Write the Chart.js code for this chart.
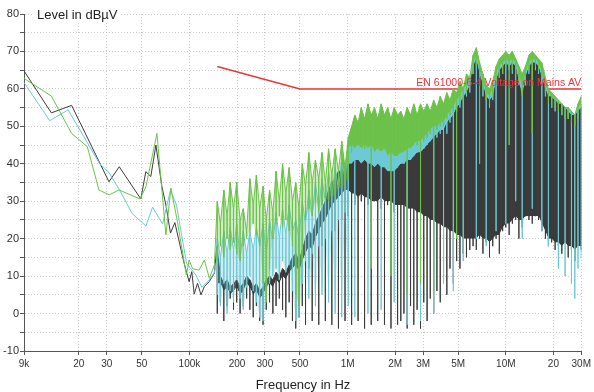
<!DOCTYPE html>
<html>
<head>
<meta charset="utf-8">
<title>Conducted emission 9 kHz - 30 MHz</title>
<script src="https://cdn.jsdelivr.net/npm/chart.js@4"></script>
<style>
  html, body { margin: 0; padding: 0; background: #fff; }
  canvas { display: block; }
</style>
</head>
<body>
<canvas id="chart" width="594" height="392"></canvas>
<script>
// all frequencies in kHz
const TICK_FREQS = [9, 20, 30, 50, 100, 200, 300, 500, 1000, 2000, 3000, 5000, 10000, 20000, 30000];
const TICK_LABELS = ["9k", "20", "30", "50", "100k", "200", "300", "500", "1M", "2M", "3M", "5M", "10M", "20", "30M"];

const LIMIT_NAME = "EN 61000-6-4 Voltage on Mains AV";
const limitFreq = [150, 500, 30000];
const limitLevel = [66, 60, 60];

// sparse part of the sweep, below 150 kHz
const darkLowFreq = [9, 13.4, 18, 31, 36, 49.3, 53, 57, 61.4, 67, 71, 75.9, 80.9, 86.9, 92.6, 99.6, 103.5, 107.2, 112.5, 118.3, 124.3, 133.7, 143.9, 148.8];
const darkLowLevel = [64.8, 53.6, 55.6, 35.2, 39.2, 30.6, 37.9, 36.6, 45.0, 33.9, 29.0, 21.5, 24.3, 18.5, 13.4, 8.5, 11.2, 5.2, 8.1, 5.0, 7.2, 8.6, 10.8, 17.9];

const greenLowFreq = [9, 13.4, 18, 22.6, 26.8, 31.1, 35.9, 48.8, 53.1, 62.3, 71, 76.4, 84, 95.6, 99.6, 104.6, 115, 124.3, 133.7, 143.9];
const greenLowLevel = [62.8, 58.1, 48.1, 44.6, 33.0, 31.7, 33.0, 30.6, 33.9, 48.1, 21.0, 33.5, 24.5, 10.3, 14.3, 12.0, 11.6, 14.3, 9.4, 13.0];

const cyanLowFreq = [9, 13.1, 17.1, 27, 31.1, 35.9, 43.5, 53.1, 58.5, 67.7, 75.9, 82.8, 95.9, 109.8, 120, 133.7, 143.9, 148.8];
const cyanLowLevel = [61.7, 51.5, 54.4, 40.1, 37.6, 33.2, 26.7, 23.4, 28.4, 23.9, 33.0, 29.0, 13.4, 10.3, 7, 9, 11, 14];

// dense part, 150 kHz - 30 MHz: peak and dip seen in each frequency step
const sweepFreq = [
  150, 157, 165, 173, 181, 190, 199, 209, 219, 230,
  241, 253, 265, 278, 292, 306, 321, 337, 353, 370,
  388, 407, 427, 448, 470, 493, 517, 542, 569, 597,
  626, 657, 689, 723, 758, 795, 834, 875, 918, 963,
  1010, 1060, 1110, 1165, 1220, 1280, 1345, 1410, 1480, 1550,
  1630, 1710, 1790, 1880, 1970, 2070, 2170, 2270, 2380, 2500,
  2620, 2750, 2890, 3030, 3180, 3330, 3500, 3670, 3850, 4040,
  4240, 4440, 4660, 4890, 5130, 5380, 5640, 5920, 6210, 6510,
  6830, 7170, 7520, 7890, 8270, 8680, 9100, 9550, 10000, 10500,
  11000, 11550, 12100, 12700, 13300, 14000, 14700, 15400, 16100, 16900,
  17800, 18600, 19500, 20500, 21500, 22600, 23700, 24800, 26000, 27300,
  28600, 30000
];

const greenPeak = [
  30, 24, 33, 26, 35, 28, 35, 25, 28, 22,
  36, 29, 37, 28, 34, 25, 33, 27, 38, 30,
  40, 32, 39, 30, 35, 28, 40, 34, 43, 35,
  41, 36, 43, 35, 44, 37, 44, 38, 46, 39,
  47, 50, 53, 51, 55, 52, 56, 53, 55, 52,
  56, 53, 55, 52, 55, 53, 54, 52, 55, 53,
  56, 53, 56, 54, 56, 54, 57, 55, 58, 56,
  59, 57, 60, 59, 62, 60, 64, 63, 69, 71,
  67, 64, 61, 60, 62, 66, 68, 69, 70, 69,
  70, 68, 66, 64, 66, 69, 70, 69, 68, 67,
  63, 60, 59, 58, 57, 56, 55, 55, 54, 53,
  56, 58
];
const greenDip = [
  14, 18, 15, 20, 17, 19, 16, 14, 18, 20,
  22, 24, 21, 18, 8, 3, 12, 20, 24, 26,
  23, 25, 22, 18, 5, 2, 14, 25, 28, 26,
  30, 27, 29, 31, 30, 32, 31, 34, 33, 35,
  36, 43, 45, 46, 46, 44, 47, 12, 46, 45,
  45, 46, 44, 10, 44, 43, 43, 44, 5, 45,
  46, 45, 8, 46, 47, 48, 6, 49, 50, 50,
  52, 53, 54, 20, 56, 57, 59, 61, 64, 66,
  40, 60, 57, 56, 58, 62, 63, 64, 66, 45,
  65, 64, 62, 58, 62, 65, 48, 66, 65, 63,
  59, 56, 55, 55, 54, 53, 52, 52, 51, 50,
  52, 54
];

const cyanPeak = [
  20, 15, 22, 16, 23, 17, 24, 15, 22, 16,
  22, 17, 23, 18, 24, 16, 25, 19, 27, 20,
  28, 21, 29, 22, 25, 20, 30, 24, 33, 26,
  35, 28, 36, 30, 38, 31, 39, 33, 41, 36,
  44, 45, 44, 45, 44, 45, 44, 45, 43, 44,
  43, 44, 42, 43, 42, 42, 43, 43, 44, 44,
  45, 46, 46, 47, 48, 49, 50, 50, 51, 51,
  53, 54, 55, 57, 58, 60, 61, 63, 67, 69,
  65, 62, 59, 58, 60, 64, 66, 67, 68, 67,
  68, 67, 64, 60, 64, 67, 68, 68, 67, 64,
  61, 59, 58, 57, 57, 56, 55, 55, 54, 53,
  55, 56
];
const cyanDip = [
  5, 2, 8, 0, 6, 3, 9, 4, 1, 7,
  10, 6, 3, -1, -2, 4, 8, 10, 12, 9,
  14, 11, 13, 6, -2, -1, 8, 14, 4, 16,
  2, 18, 5, 20, 3, 22, 0, 25, -1, 27,
  2, 41, -1, 42, 41, 42, 0, 42, 40, 41,
  1, 41, 39, 40, 3, 39, 40, 40, -3, 41,
  42, 43, -2, 44, 45, 46, 0, 47, 48, 8,
  48, 51, 6, 54, 55, 14, 58, 59, 64, 20,
  62, 58, 18, 55, 57, 22, 63, 64, 24, 65,
  64, 30, 61, 20, 61, 64, 28, 65, 64, 22,
  58, 18, 55, 54, 12, 53, 10, 52, 8, 4,
  12, 15
];

const darkPeak = [
  17, 10, 8, 9, 7, 8, 9, 7, 8, 10,
  9, 7, 8, 6, 7, 9, 10, 9, 11, 10,
  12, 11, 13, 15, 16, 14, 17, 20, 22, 21,
  24, 26, 28, 30, 33, 35, 36, 38, 38, 39,
  40, 40, 41, 41, 40, 41, 40, 40, 39, 40,
  39, 39, 38, 38, 38, 39, 40, 40, 41, 41,
  42, 43, 43, 44, 45, 46, 47, 48, 49, 49,
  51, 52, 53, 55, 56, 58, 59, 61, 66, 68,
  64, 61, 58, 57, 58, 62, 65, 66, 67, 66,
  67, 66, 62, 58, 63, 66, 67, 67, 66, 63,
  60, 58, 58, 57, 56, 56, 55, 54, 53, 53,
  54, 55
];
const darkDip = [
  0, 3, -2, 2, 4, 1, 3, 0, 2, 4,
  1, -1, 2, -2, -3, 1, 3, 0, 2, 4,
  1, -1, 3, -2, -4, -1, 2, -3, 12, -2,
  15, -3, 18, -2, 20, -3, 22, -4, 25, -2,
  26, -3, 29, -2, 30, -4, 29, -3, 30, -2,
  28, -3, 29, -4, 27, -3, -2, 0, -4, 2,
  -3, 1, -4, 3, -2, 4, 0, 6, 3, 10,
  5, 12, 8, 14, 12, 16, 15, 17, 18, 17,
  20, 16, 19, 15, 18, 20, 16, 22, 23, 21,
  24, 25, 20, 23, 26, 25, 24, 26, 25, 22,
  20, 18, 19, 17, 18, 16, 19, 15, 17, 14,
  18, 17
];
// lower edge of the solid dark band
const darkFloor = [
  8, 8, 6, 7, 5, 6, 7, 5, 6, 8,
  7, 5, 6, 4, 5, 7, 8, 7, 9, 8,
  10, 9, 11, 12, 13, 11, 14, 16, 18, 17,
  20, 22, 24, 25, 27, 29, 30, 31, 32, 33,
  33, 32, 32, 31, 32, 31, 31, 30, 30, 30,
  31, 30, 30, 30, 29, 29, 29, 29, 28, 28,
  28, 27, 27, 26, 26, 25, 25, 24, 24, 23,
  23, 22, 22, 21, 21, 20, 20, 20, 20, 20,
  21, 20, 20, 19, 20, 21, 21, 23, 24, 24,
  25, 26, 25, 25, 26, 26, 26, 26, 26, 24,
  22, 20, 20, 19, 19, 18, 19, 18, 18, 17,
  18, 18
];

const GREEN = "#6cc24a";
const CYAN = "#6cc9d6";
const DARK = "#3b3b3b";
const RED = "#e3393c";
const GREEN_HAZE = "rgba(108,194,74,0.32)";
const CYAN_HAZE = "rgba(108,201,214,0.32)";
const CLEAR = "rgba(0,0,0,0)";
const BAND_FROM = 38; // solid bands above ~900 kHz
const HAZE_TO = 41;   // dense hatching 150 kHz - 1 MHz

const pts = (fs, ls) => fs.map((f, i) => ({ x: f, y: ls[i] }));
// every step: down from the peak to the dip and back up, so spikes stay vertical
const trace = (lowF, lowL, peak, dip) =>
  pts(lowF, lowL).concat(sweepFreq.flatMap((f, i) => [
    { x: f, y: peak[i] }, { x: f, y: dip[i] }, { x: f, y: peak[i] },
  ]));
const slicePts = (ls, from, to) => sweepFreq.slice(from, to).map((f, i) => ({ x: f, y: ls[from + i] }));

const line = (data, color, order, extra) => Object.assign({
  data: data,
  borderColor: color,
  backgroundColor: color,
  borderWidth: 1,
  pointRadius: 0,
  tension: 0,
  fill: false,
  order: order,
}, extra || {});
const hidden = (data) => line(data, CLEAR, 20, { borderWidth: 0 });
const band = (data, color, order, target) =>
  line(data, color, order, { borderWidth: 0, fill: { target: target, above: color, below: CLEAR } });

const datasets = [
  line(trace(greenLowFreq, greenLowLevel, greenPeak, greenDip), GREEN, 1),   // 0
  band(slicePts(greenPeak, BAND_FROM), GREEN, 2, 2),                         // 1
  band(slicePts(cyanPeak, BAND_FROM), CYAN, 4, 5),                           // 2
  line(trace(cyanLowFreq, cyanLowLevel, cyanPeak, cyanDip), CYAN, 3),       // 3
  line(trace(darkLowFreq, darkLowLevel, darkPeak, darkDip), DARK, 5),       // 4
  hidden(slicePts(darkPeak, BAND_FROM)),                                     // 5
  band(pts(sweepFreq, darkPeak), DARK, 6, 7),                                // 6
  hidden(pts(sweepFreq, darkFloor)),                                         // 7
  line(pts(limitFreq, limitLevel), RED, 9, { borderWidth: 1.5 }),            // 8
  band(slicePts(greenPeak, 0, HAZE_TO), GREEN_HAZE, 2, 10),                  // 9
  hidden(slicePts(greenDip, 0, HAZE_TO)),                                    // 10
  band(slicePts(cyanPeak, 0, HAZE_TO), CYAN_HAZE, 4, 12),                    // 11
  hidden(slicePts(cyanDip, 0, HAZE_TO)),                                     // 12
];

const FONT = "'Liberation Sans', Arial, sans-serif";

const chartText = {
  id: "chartText",
  afterDatasetsDraw(chart) {
    const { ctx, chartArea, scales } = chart;
    ctx.save();
    ctx.fillStyle = RED;
    ctx.font = "10.5px " + FONT;
    ctx.textAlign = "right";
    ctx.textBaseline = "alphabetic";
    ctx.fillText(LIMIT_NAME, chartArea.right, scales.y.getPixelForValue(limitLevel[2]) - 3);
    ctx.restore();
  },
  afterDraw(chart) {
    const { ctx } = chart;
    ctx.save();
    ctx.font = "13px " + FONT;
    ctx.textBaseline = "alphabetic";
    const w = ctx.measureText("Level in dBµV").width;
    ctx.fillStyle = "#fff";
    ctx.fillRect(34, 6, w + 6, 16);
    ctx.fillStyle = "#1e1e1e";
    ctx.textAlign = "left";
    ctx.fillText("Level in dBµV", 37, 19);
    ctx.textAlign = "center";
    ctx.fillText("Frequency in Hz", 303, 389);
    ctx.restore();
  },
};

new Chart(document.getElementById("chart"), {
  type: "line",
  data: { datasets: datasets },
  plugins: [chartText],
  options: {
    responsive: false,
    devicePixelRatio: 1,
    animation: false,
    events: [],
    layout: { padding: { top: 14, right: 10, left: 0, bottom: 0 } },
    plugins: {
      legend: { display: false },
      tooltip: { enabled: false },
    },
    scales: {
      x: {
        type: "logarithmic",
        min: 9,
        max: 30000,
        afterBuildTicks: (scale) => { scale.ticks = TICK_FREQS.map((v) => ({ value: v })); },
        afterFit: (scale) => { scale.height = 41; },
        ticks: {
          autoSkip: false,
          maxRotation: 0,
          padding: 3,
          color: "#333",
          font: { family: FONT, size: 10 },
          callback: (value) => TICK_LABELS[TICK_FREQS.indexOf(value)],
        },
        grid: { color: "#c9c9c9", tickColor: "#555", tickLength: 4, tickBorderDash: [] },
        border: { color: "#555", width: 1, dash: [1, 2] },
      },
      y: {
        type: "linear",
        min: -10,
        max: 80,
        afterFit: (scale) => { scale.width = 24; },
        ticks: {
          stepSize: 5,
          padding: 1,
          color: "#333",
          font: { family: FONT, size: 11 },
          callback: (value) => (value % 10 === 0 ? String(value) : ""),
        },
        grid: { color: "#c9c9c9", tickColor: "#555", tickLength: 4, tickBorderDash: [] },
        border: { color: "#555", width: 1, dash: [1, 2] },
      },
    },
  },
});
</script>
</body>
</html>
